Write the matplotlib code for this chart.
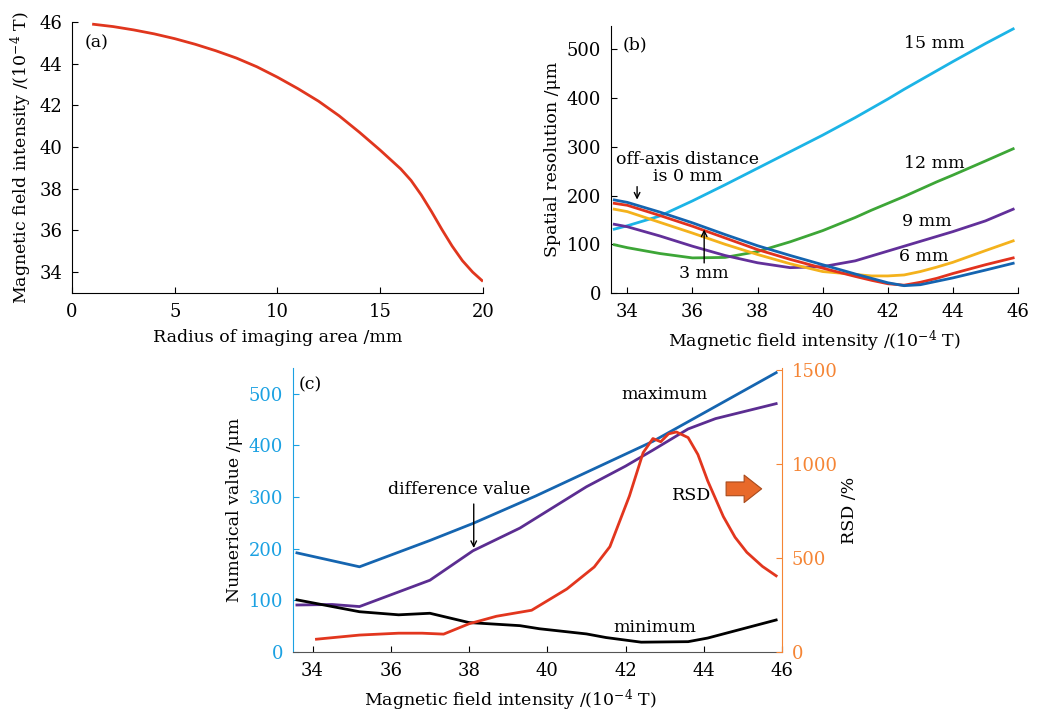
import matplotlib
matplotlib.use("Agg")
import matplotlib.pyplot as plt
import numpy as np

plt.rcParams['font.family'] = ['DejaVu Serif']
plt.rcParams['mathtext.fontset'] = 'dejavuserif'

# (a) field vs radius
radius = [1.05, 2, 3, 4, 5, 6, 7, 8, 9, 10, 11, 12, 13, 14, 15, 16, 16.5, 17,
          17.5, 18, 18.5, 19, 19.5, 19.95]
field = [45.89, 45.78, 45.62, 45.43, 45.2, 44.93, 44.62, 44.27, 43.85, 43.35, 42.8,
         42.2, 41.5, 40.7, 39.85, 38.95, 38.4, 37.7, 36.9, 36.05, 35.25, 34.55, 34.0, 33.6]

# (b) spatial resolution vs field for each off-axis distance
bx = [33.6, 34, 35, 36, 37, 38, 39, 40, 41, 41.5, 42, 42.5, 43, 43.5, 44, 45, 45.85]
res_0 = [191, 186, 166, 144, 120, 97, 77, 58, 39, 30, 21, 15, 17, 24, 31, 47, 61]
res_3 = [184, 180, 159, 137, 113, 89, 69, 51, 34, 26, 19, 16, 22, 30, 40, 58, 72]
res_6 = [172, 167, 145, 123, 100, 79, 60, 44, 38, 35, 35, 37, 44, 53, 63, 87, 107]
res_9 = [141, 136, 117, 96, 77, 62, 52, 54, 66, 76, 86, 96, 106, 116, 126, 148, 172]
res_12 = [99, 93, 81, 72, 73, 85, 105, 128, 155, 170, 184, 198, 213, 228, 242, 271, 296]
res_15 = [131, 138, 158, 189, 222, 256, 290, 324, 360, 379, 398, 418, 437, 456, 475, 512, 542]

# (c) statistics
max_x = [33.6, 35.2, 37, 38.1, 39.7, 42.7, 45.85]
max_v = [192, 165, 216, 249, 302, 408, 541]
diff_x = [33.6, 34.5, 35.2, 37, 38.1, 39.3, 41, 42, 42.7, 43.6, 44.3, 45.85]
diff_v = [91, 92, 88, 139, 196, 240, 320, 360, 391, 432, 452, 481]
min_x = [33.6, 35.2, 36.2, 37, 38, 39.3, 39.8, 41, 41.5, 42.4, 43.6, 44.1, 45.85]
min_v = [101, 78, 72, 75, 57, 51, 45, 35, 28, 19, 20, 27, 62]
rsd_x = [34.1, 35.2, 36.2, 36.8, 37.35, 38, 38.7, 39.6, 40.5, 41.2, 41.6, 42.1, 42.45,
         42.7, 42.9, 43.1, 43.3, 43.6, 43.85, 44.1, 44.5, 44.8, 45.1, 45.5, 45.85]
rsd_v = [68, 90, 100, 100, 95, 150, 190, 222, 335, 452, 560, 830, 1060,
         1135, 1118, 1160, 1170, 1140, 1050, 910, 720, 610, 530, 455, 405]

fig = plt.figure(figsize=(10.49, 7.16), dpi=100)

def style(ax):
    ax.spines['top'].set_visible(False)
    ax.spines['right'].set_visible(False)
    ax.tick_params(direction='in', length=4, labelsize=13, pad=7)

# ---- (a)
ax_a = fig.add_axes([0.0686, 0.5908, 0.3918, 0.3785])
ax_a.plot(radius, field, color='#E0361E', lw=2)
ax_a.set_xlim(0, 20)
ax_a.set_ylim(33, 46)
ax_a.set_xticks([0, 5, 10, 15, 20])
ax_a.set_yticks([34, 36, 38, 40, 42, 44, 46])
style(ax_a)
ax_a.set_xlabel("Radius of imaging area /mm", fontsize=12.5, labelpad=6)
ax_a.set_ylabel("Magnetic field intensity /(10$^{-4}$ T)", fontsize=12.5)
ax_a.text(1.2, 45.0, "(a)", fontsize=12.5, ha='center', va='center')

# ---- (b)
ax_b = fig.add_axes([0.5825, 0.5908, 0.388, 0.3729])
ax_b.plot(bx, res_15, color='#1CB4E6', lw=2)
ax_b.plot(bx, res_12, color='#3DA637', lw=2)
ax_b.plot(bx, res_9, color='#62309A', lw=2)
ax_b.plot(bx, res_6, color='#F4B21C', lw=2)
ax_b.plot(bx, res_3, color='#E2321E', lw=2)
ax_b.plot(bx, res_0, color='#1464B0', lw=2)
ax_b.set_xlim(33.5, 46)
ax_b.set_ylim(0, 548)
ax_b.set_xticks([34, 36, 38, 40, 42, 44, 46])
ax_b.set_yticks([0, 100, 200, 300, 400, 500])
style(ax_b)
ax_b.set_xlabel("Magnetic field intensity /(10$^{-4}$ T)", fontsize=12.5, labelpad=6)
ax_b.set_ylabel("Spatial resolution /μm", fontsize=12.5)
ax_b.text(34.24, 509, "(b)", fontsize=12.5, ha='center', va='center')
ax_b.text(43.43, 512, "15 mm", fontsize=12.5, ha='center', va='center')
ax_b.text(43.43, 266, "12 mm", fontsize=12.5, ha='center', va='center')
ax_b.text(43.2, 147, "9 mm", fontsize=12.5, ha='center', va='center')
ax_b.text(43.1, 75, "6 mm", fontsize=12.5, ha='center', va='center')
ax_b.text(35.85, 257, "off-axis distance\nis 0 mm", fontsize=12.5, ha='center',
          va='center', linespacing=1.0)
ax_b.annotate("", xy=(34.3, 186), xytext=(34.3, 224),
              arrowprops=dict(arrowstyle='->', color='black', lw=1))
ax_b.text(36.34, 41, "3 mm", fontsize=12.5, ha='center', va='center')
ax_b.annotate("", xy=(36.36, 136), xytext=(36.36, 56),
              arrowprops=dict(arrowstyle='->', color='black', lw=1))

# ---- (c)
ax_c = fig.add_axes([0.2793, 0.0894, 0.4662, 0.3966])
ax_c.plot(max_x, max_v, color='#1565B0', lw=2)
ax_c.plot(diff_x, diff_v, color='#5B2D91', lw=2)
ax_c.plot(min_x, min_v, color='black', lw=2)
ax_c.set_xlim(33.5, 46)
ax_c.set_ylim(0, 550)
ax_c.set_xticks([34, 36, 38, 40, 42, 44, 46])
ax_c.set_yticks([0, 100, 200, 300, 400, 500])
style(ax_c)
left_col = '#1BA1E2'
ax_c.spines['left'].set_color(left_col)
ax_c.tick_params(axis='y', colors=left_col, labelcolor=left_col)
ax_c.spines['bottom'].set_color('#555555')
ax_c.set_xlabel("Magnetic field intensity /(10$^{-4}$ T)", fontsize=12.5)
ax_c.xaxis.set_label_coords(0.444, -0.125)
ax_c.set_ylabel("Numerical value /μm", fontsize=12.5, color='black')

ax_r = ax_c.twinx()
ax_r.plot(rsd_x, rsd_v, color='#E2361E', lw=2)
ax_r.set_ylim(0, 1510)
ax_r.set_yticks([0, 500, 1000, 1500])
right_col = '#F58535'
for s in ['top', 'left', 'bottom']:
    ax_r.spines[s].set_visible(False)
ax_r.spines['right'].set_color(right_col)
ax_r.tick_params(axis='y', direction='in', length=4, labelsize=13, pad=7,
                 colors=right_col, labelcolor=right_col)
ax_r.set_ylabel("RSD /%", fontsize=12.5, color='black', labelpad=2)

ax_c.text(33.95, 517, "(c)", fontsize=12.5, ha='center', va='center')
ax_c.text(43.0, 498, "maximum", fontsize=12.5, ha='center', va='center')
ax_c.text(42.76, 48, "minimum", fontsize=12.5, ha='center', va='center')
ax_c.text(37.74, 314, "difference value", fontsize=12.5, ha='center', va='center')
ax_c.annotate("", xy=(38.12, 196), xytext=(38.12, 292),
              arrowprops=dict(arrowstyle='->', color='black', lw=1))
ax_c.text(43.7, 304, "RSD", fontsize=12.5, ha='center', va='center')
ax_c.annotate("", xy=(45.55, 316), xytext=(44.5, 316),
              arrowprops=dict(arrowstyle='simple,head_length=0.7,head_width=1.1,tail_width=0.55',
                              fc='#E8692A', ec='#A84A1C', lw=0.8, mutation_scale=18))

fig.savefig("out.png", dpi=100)
